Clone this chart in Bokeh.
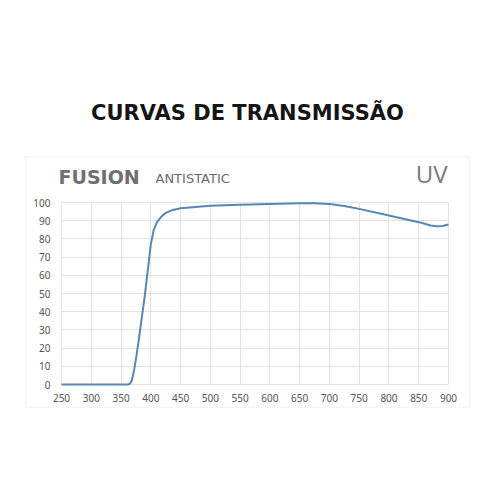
from bokeh.plotting import figure
from bokeh.models import Label, BoxAnnotation, FixedTicker, Range1d
from bokeh.embed import file_html
from bokeh.resources import INLINE

wavelength = [250, 300, 350, 362, 365, 368, 372, 376, 380, 385, 390, 395, 400, 405,
              410, 417, 425, 435, 450, 500, 550, 600, 650, 675, 700, 725, 750, 800, 850,
              860, 870, 880, 890, 900]
transmission = [0, 0, 0, 0, 0.5, 2, 8, 16, 25, 37, 49, 63, 77, 85,
                89, 92, 94.3, 95.7, 96.8, 98.2, 98.7, 99.2, 99.6, 99.6, 99.2, 98.1, 96.5, 92.9, 89.2,
                88.3, 87.4, 86.9, 87.1, 87.9]
x_ticks = list(range(250, 901, 50))
y_ticks = list(range(0, 101, 10))

W = H = 484
# pixel layout of the plotting area
PX_LEFT, PX_RIGHT, PX_TOP, PX_BOTTOM = 61, 448, 202, 384
sx = (PX_RIGHT - PX_LEFT) / 650.0
sy = (PX_BOTTOM - PX_TOP) / 100.0
x0 = 250 - PX_LEFT / sx
y0 = -(H - PX_BOTTOM) / sy

def dx(px):
    return x0 + px / sx

def dy(py):
    return y0 + (H - py) / sy

p = figure(width=W, height=H, output_backend="svg", toolbar_location=None,
           x_range=Range1d(dx(0), dx(W)), y_range=Range1d(dy(H), dy(0)),
           min_border=0)
p.outline_line_color = None
p.background_fill_color = "white"
p.border_fill_color = "white"

box = BoxAnnotation(left=dx(25), right=dx(469), top=dy(156), bottom=dy(407),
                    fill_alpha=0, line_color="#e2e2e2", line_width=2)
p.add_layout(box)

p.xgrid[0].ticker = FixedTicker(ticks=x_ticks)
p.ygrid[0].ticker = FixedTicker(ticks=y_ticks)
p.xgrid[0].cross_bounds = (0, 100)
p.ygrid[0].cross_bounds = (250, 900)
p.grid.grid_line_color = "#e3e3e3"
p.grid.grid_line_width = 1

p.line(wavelength, transmission, line_color="#5688b3", line_width=2)

for ax in (p.xaxis[0], p.yaxis[0]):
    ax.axis_line_color = None
    ax.major_tick_line_color = None
    ax.minor_tick_line_color = None
    ax.major_label_text_font = "Noto Sans"
    ax.major_label_text_font_size = "10px"
    ax.major_label_text_color = "#555555"
p.xaxis[0].ticker = FixedTicker(ticks=x_ticks)
p.yaxis[0].ticker = FixedTicker(ticks=y_ticks)
p.xaxis[0].fixed_location = 0
p.yaxis[0].fixed_location = 250
p.xaxis[0].major_label_standoff = 3
p.yaxis[0].major_label_standoff = 5

p.add_layout(Label(x=dx(247), y=dy(112), text="CURVAS DE TRANSMISSÃO",
                   text_align="center", text_baseline="middle",
                   text_font="DejaVu Sans", text_font_style="bold", text_font_size="21px",
                   text_color="#151515"))
p.add_layout(Label(x=dx(58), y=dy(176), text="FUSION", text_align="left", text_baseline="middle",
                   text_font="DejaVu Sans", text_font_style="bold", text_font_size="19px",
                   text_color="#707070"))
p.add_layout(Label(x=dx(155), y=dy(177.5), text="ANTISTATIC", text_align="left", text_baseline="middle",
                   text_font="DejaVu Sans", text_font_size="13px",
                   text_color="#6a6a6a"))
p.add_layout(Label(x=dx(447), y=dy(173), text="UV", text_align="right", text_baseline="middle",
                   text_font="Open Sans", text_font_size="24px",
                   text_color="#7a7a7a"))

open("out.html", "w").write(file_html(p, INLINE))
